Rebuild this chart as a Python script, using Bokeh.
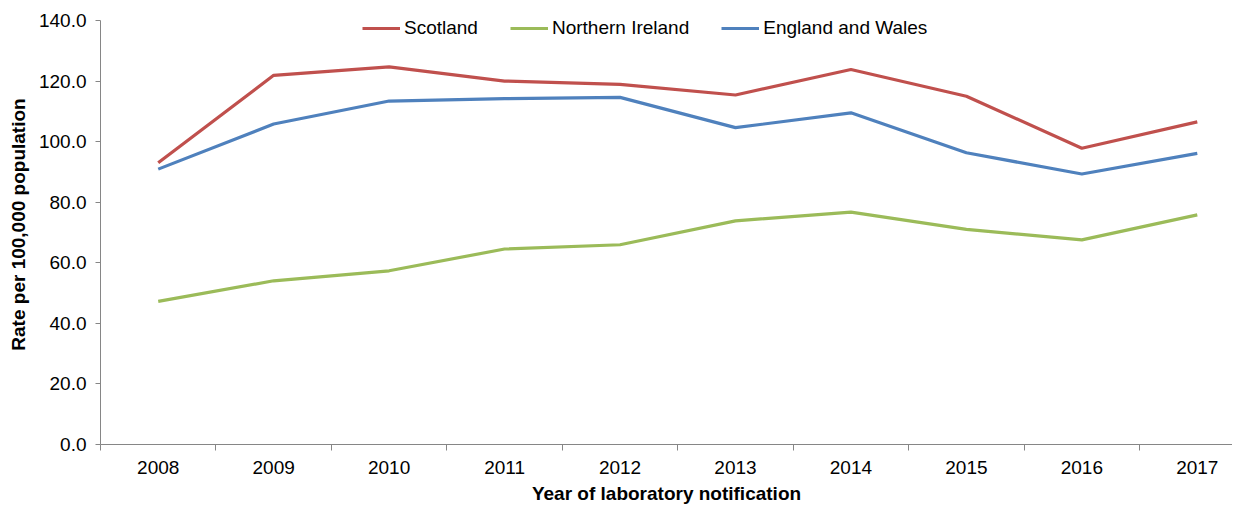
from bokeh.plotting import figure
from bokeh.models import FixedTicker, NumeralTickFormatter, Legend, LegendItem, Range1d
from bokeh.embed import file_html
from bokeh.resources import INLINE

years = [2008, 2009, 2010, 2011, 2012, 2013, 2014, 2015, 2016, 2017]
scotland = [93.1, 122.0, 124.8, 120.1, 119.0, 115.5, 123.9, 115.1, 97.9, 106.6]
northern_ireland = [47.3, 54.1, 57.4, 64.6, 66.0, 73.9, 76.8, 71.1, 67.6, 75.9]
england_wales = [91.0, 105.9, 113.5, 114.3, 114.7, 104.7, 109.6, 96.4, 89.4, 96.2]
series_names = ["Scotland", "Northern Ireland", "England and Wales"]
series_colors = ["#C0504D", "#9BBB59", "#4F81BD"]
y_ticks = [0, 20, 40, 60, 80, 100, 120, 140]

FONT = "Liberation Sans"
FS = "19px"
AXIS_COLOR = "#868686"

p = figure(width=1232, height=506, output_backend="svg", toolbar_location=None,
           x_range=Range1d(2007.5, 2017.305), y_range=Range1d(0, 145.4),
           min_border_left=100, min_border_right=0, min_border_top=4, min_border_bottom=61)
p.outline_line_color = None
p.xgrid.grid_line_color = None
p.ygrid.grid_line_color = None
p.background_fill_color = "white"
p.border_fill_color = "white"

renderers = []
for name, vals, col in zip(series_names, [scotland, northern_ireland, england_wales], series_colors):
    r = p.line(years, vals, line_color=col, line_width=3.2)
    renderers.append(r)

xa = p.xaxis[0]
xa.ticker = FixedTicker(ticks=years, minor_ticks=[y - 0.5 for y in years] + [years[-1] + 0.5])
xa.formatter = NumeralTickFormatter(format="0")
xa.major_tick_out = 0
xa.major_tick_in = 0
xa.minor_tick_out = 6
xa.minor_tick_in = 0
xa.axis_line_color = AXIS_COLOR
xa.minor_tick_line_color = AXIS_COLOR
xa.major_label_text_font = FONT
xa.major_label_text_font_size = FS
xa.major_label_text_color = "black"
xa.major_label_standoff = 10
xa.axis_label = "Year of laboratory notification"
xa.axis_label_text_font = FONT
xa.axis_label_text_font_size = FS
xa.axis_label_text_font_style = "bold"
xa.axis_label_text_color = "black"
xa.axis_label_standoff = 6

ya = p.yaxis[0]
ya.ticker = FixedTicker(ticks=y_ticks)
ya.bounds = (0, 140)
ya.formatter = NumeralTickFormatter(format="0.0")
ya.major_tick_out = 5
ya.major_tick_in = 0
ya.minor_tick_out = 0
ya.minor_tick_in = 0
ya.axis_line_color = AXIS_COLOR
ya.major_tick_line_color = AXIS_COLOR
ya.major_label_text_font = FONT
ya.major_label_text_font_size = FS
ya.major_label_text_color = "black"
ya.major_label_standoff = 9
ya.axis_label = "Rate per 100,000 population"
ya.axis_label_text_font = FONT
ya.axis_label_text_font_size = FS
ya.axis_label_text_font_style = "bold"
ya.axis_label_text_color = "black"
ya.axis_label_standoff = 7

legend = Legend(items=[LegendItem(label=n, renderers=[r]) for n, r in zip(series_names, renderers)],
                location=(262, 405), orientation="horizontal",
                glyph_width=38, glyph_height=20, label_height=20, label_standoff=4, spacing=32,
                padding=0, margin=0,
                label_text_font=FONT, label_text_font_size=FS, label_text_color="black",
                background_fill_alpha=0, border_line_alpha=0)
p.add_layout(legend)

open("out.html", "w").write(file_html(p, INLINE))
